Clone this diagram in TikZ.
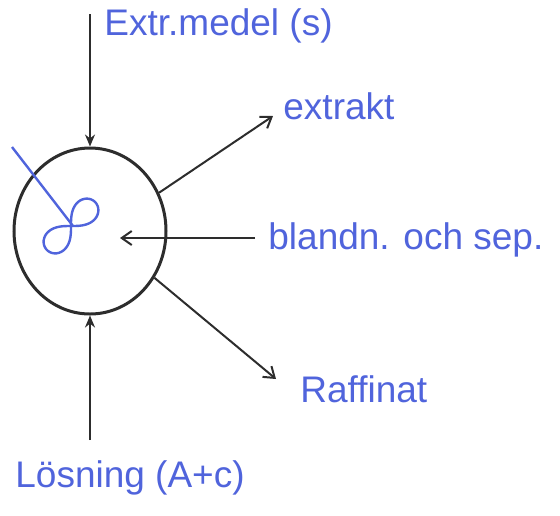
\documentclass[tikz,border=0pt]{standalone}
\usepackage{fontspec}
\setmainfont{Liberation Sans}
\usetikzlibrary{shapes.geometric,arrows.meta}
\definecolor{pen}{RGB}{80,100,220}
\definecolor{ink}{RGB}{45,45,45}
\tikzset{
  lbl/.style={text=pen, font=\fontsize{18.5}{22}\selectfont, inner sep=0pt, anchor=west},
  flow/.style={draw=ink, line width=1pt, -{Stealth[length=6pt,width=5pt]}},
  flowopen/.style={draw=ink, line width=1pt, -{Straight Barb[length=5pt,width=7pt]}},
}
\begin{document}
\begin{tikzpicture}[x=0.5pt,y=-0.5pt]
\useasboundingbox (0,0) rectangle (560,515);
\node[ellipse, draw=ink, line width=1.5pt, minimum width=76pt, minimum height=83pt, inner sep=0pt] (vessel) at (90,231) {};
\node[lbl] (extr) at (104,26) {Extr.medel (s)};
\node[lbl] (extrakt) at (283,106) {extrakt};
\node[lbl] (bland) at (268,240) {blandn. och sep.};
\node[lbl] (raff) at (300,389) {Raffinat};
\node[lbl] (los) at (15,478) {Lösning (A+c)};
\coordinate (topin) at (90,14);
\coordinate (botin) at (90,440);
\coordinate (extend) at (273,116);
\coordinate (raffend) at (276,379);
\coordinate (blandstart) at (255,238);
\coordinate (blandend) at (120,238);
\draw[flow] (topin) -- (vessel.north);
\draw[flow] (botin) -- (vessel.south);
\draw[flowopen] (vessel.29) -- (extend);
\draw[flowopen] (vessel.-36) -- (raffend);
\draw[flowopen] (blandstart) -- (blandend);
% stirrer
\coordinate (shaft) at (12,147);
\coordinate (hub) at (73,226);
\draw[pen, line width=1.2pt] (shaft) -- (hub);
\draw[pen, line width=1.2pt, rotate around={45:(71,226)}] plot[domain=0:360, samples=90, smooth] ({71+34*cos(\x)/(1+sin(\x)^2)}, {226+34*sin(\x)*cos(\x)/(1+sin(\x)^2)});
\end{tikzpicture}
\end{document}
